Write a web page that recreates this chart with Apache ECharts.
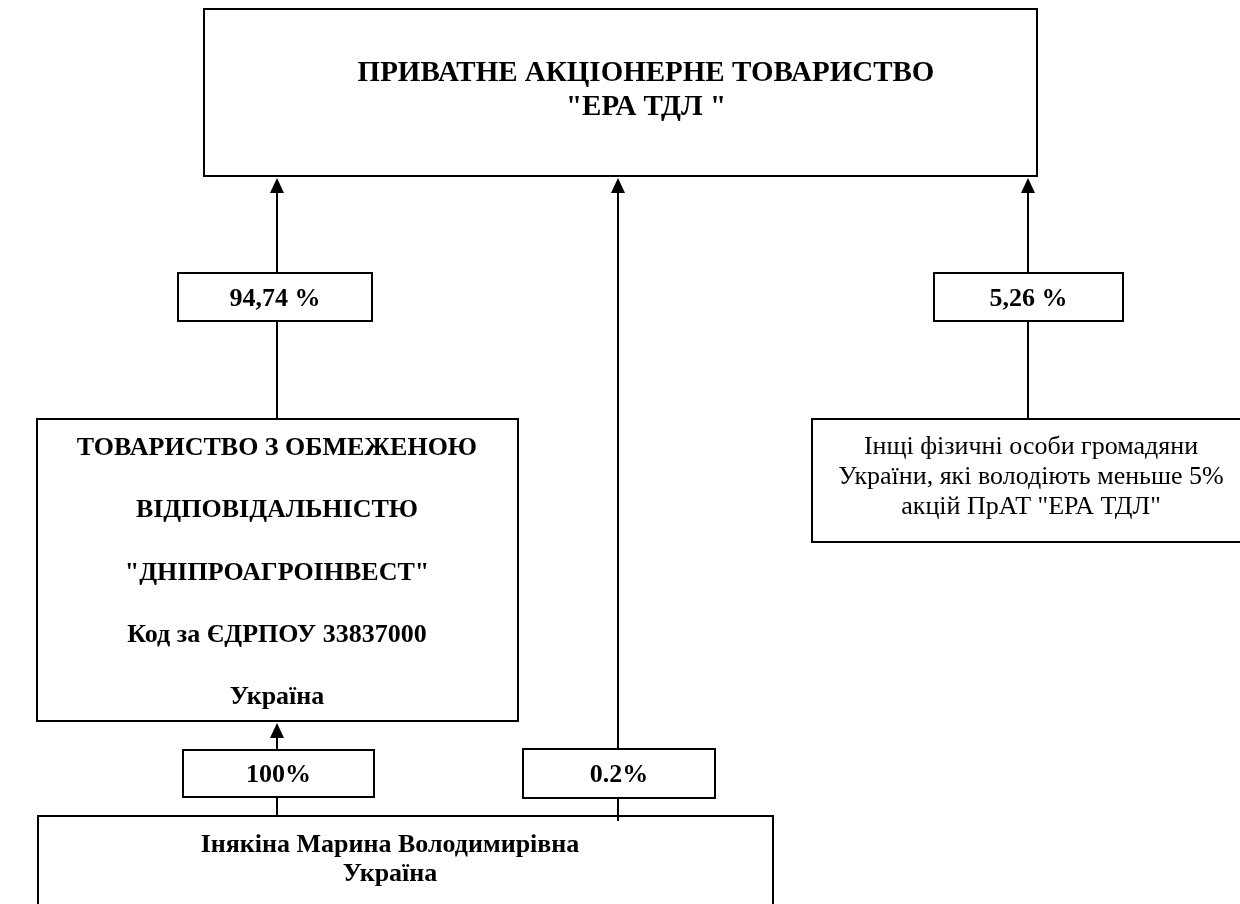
<!DOCTYPE html>
<html>
<head>
<meta charset="utf-8">
<title>ПрАТ ЕРА ТДЛ</title>
<script src="https://cdn.jsdelivr.net/npm/echarts@6/dist/echarts.min.js"></script>
<style>html,body{margin:0;height:100%;background:#fff}#chart{width:1240px;height:904px}</style>
</head>
<body>
<div id="chart"></div>
<script>
// nodes of the ownership scheme
var nodeLines = [
  ['ПРИВАТНЕ АКЦІОНЕРНЕ ТОВАРИСТВО', '"ЕРА ТДЛ "'],
  ['ТОВАРИСТВО З ОБМЕЖЕНОЮ', 'ВІДПОВІДАЛЬНІСТЮ', '"ДНІПРОАГРОІНВЕСТ"', 'Код за ЄДРПОУ 33837000', 'Україна'],
  ['Інщі фізичні особи громадяни', 'України, які володіють меньше 5%', 'акцій ПрАТ "ЕРА ТДЛ"'],
  ['Інякіна Марина Володимирівна', 'Україна']
];
// shares (owner -> owned)
var shareLabels = ['94,74 %', '5,26 %', '100%', '0.2%'];

// layout in page units (x0, y0, x1, y1)
var nodeBoxes = [[204, 9, 1037, 176], [37, 419, 518, 721], [812, 419, 1250, 542], [38, 816, 773, 930]];
var nodeText = [[646, 91, 29, 34, 'bold'], [277, 573, 26, 62.3, 'bold'], [1031, 477, 26, 30, 'normal'], [390, 860, 26, 29, 'bold']];
var shareBoxes = [[178, 273, 372, 321], [934, 273, 1123, 321], [183, 750, 374, 797], [523, 749, 715, 798]];
var edgeX = [277, 1028, 277, 618];
var edgeFrom = [419, 419, 816, 821];
var edgeTo = [176, 176, 721, 176];

var FONT = '"Liberation Serif", "Times New Roman", serif';

var boxData = nodeBoxes.map(function (b, i) {
  return b.concat(nodeText[i]).concat([nodeLines[i].join('\n')]);
});
var shareData = shareBoxes.map(function (b, i) {
  return b.concat([(b[0] + b[2]) / 2, (b[1] + b[3]) / 2 + 2, 26, 30, 'bold', shareLabels[i]]);
});
var edgeData = edgeX.map(function (x, i) { return [x, edgeFrom[i], edgeTo[i]]; });

function renderBox(params, api) {
  var p0 = api.coord([api.value(0), api.value(1)]);
  var p1 = api.coord([api.value(2), api.value(3)]);
  var c = api.coord([api.value(4), api.value(5)]);
  return {
    type: 'group',
    children: [{
      type: 'rect',
      shape: { x: p0[0], y: p0[1], width: p1[0] - p0[0], height: p1[1] - p0[1] },
      style: { fill: '#fff', stroke: '#000', lineWidth: 2 }
    }, {
      type: 'text',
      x: c[0], y: c[1],
      style: {
        text: api.value(9),
        fontFamily: FONT,
        fontSize: api.value(6),
        lineHeight: api.value(7),
        fontWeight: api.value(8),
        fill: '#000',
        align: 'center',
        verticalAlign: 'middle'
      }
    }]
  };
}

function renderEdge(params, api) {
  var a = api.coord([api.value(0), api.value(1)]);
  var b = api.coord([api.value(0), api.value(2)]);
  var tip = b[1] + 2;
  return {
    type: 'group',
    children: [{
      type: 'line',
      shape: { x1: a[0], y1: a[1], x2: b[0], y2: tip + 14 },
      style: { stroke: '#000', lineWidth: 2 }
    }, {
      type: 'polygon',
      shape: { points: [[b[0], tip], [b[0] - 7, tip + 15], [b[0] + 7, tip + 15]] },
      style: { fill: '#000' }
    }]
  };
}

var chart = echarts.init(document.getElementById('chart'));
chart.setOption({
  animation: false,
  backgroundColor: '#fff',
  grid: { left: 0, right: 0, top: 0, bottom: 0 },
  xAxis: { type: 'value', min: 0, max: 1240, show: false },
  yAxis: { type: 'value', min: 0, max: 904, inverse: true, show: false },
  series: [{
    type: 'custom',
    name: 'nodes',
    renderItem: renderBox,
    data: boxData,
    z: 1
  }, {
    type: 'custom',
    name: 'edges',
    renderItem: renderEdge,
    data: edgeData,
    z: 2
  }, {
    type: 'custom',
    name: 'shares',
    renderItem: renderBox,
    data: shareData,
    z: 3
  }]
});
</script>
</body>
</html>
